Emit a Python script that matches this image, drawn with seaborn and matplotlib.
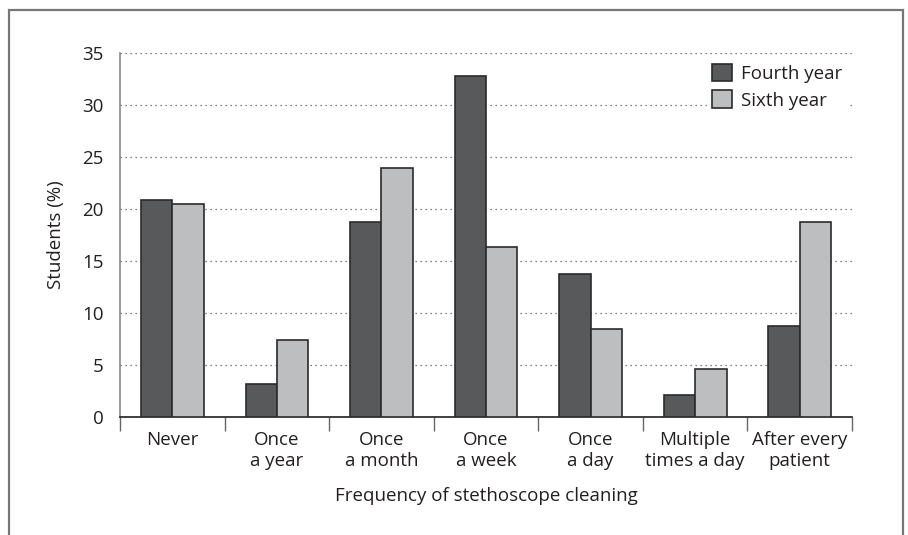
import matplotlib
matplotlib.use('Agg')
import matplotlib.pyplot as plt
import matplotlib.patches as mpatches
import pandas as pd
import seaborn as sns

# data
categories = ['Never', 'Once\na year', 'Once\na month', 'Once\na week',
              'Once\na day', 'Multiple\ntimes a day', 'After every\npatient']
fourth_year = [20.8, 3.1, 18.7, 32.8, 13.7, 2.1, 8.7]
sixth_year = [20.5, 7.4, 23.9, 16.3, 8.4, 4.6, 18.7]
groups = ['Fourth year', 'Sixth year']
y_ticks = [0, 5, 10, 15, 20, 25, 30, 35]

df = pd.DataFrame({
    'category': categories * 2,
    'value': fourth_year + sixth_year,
    'group': [groups[0]] * len(categories) + [groups[1]] * len(categories),
})

sns.set_style('white')
plt.rcParams['font.family'] = ['Open Sans', 'DejaVu Sans']
plt.rcParams['font.size'] = 13.5

colors = {'Fourth year': '#58595b', 'Sixth year': '#bcbec0'}

fig = plt.figure(figsize=(9.08, 5.35), dpi=100)
ax = fig.add_axes([0.1322, 0.2211, 0.8061, 0.6804])

sns.barplot(data=df, x='category', y='value', hue='group', order=categories,
            hue_order=groups, palette=colors, width=0.6, edgecolor='#2b2b2b',
            linewidth=1.2, saturation=1, ax=ax, legend=False, zorder=3)

ax.set_xlim(-0.5, len(categories) - 0.5)
ax.set_ylim(0, 35)
ax.set_yticks(y_ticks)
ax.yaxis.grid(True, linestyle=(0, (1, 3)), color='#555555', linewidth=0.9)
ax.set_axisbelow(True)

# ticks on the x axis sit between the categories
ax.set_xticks(range(len(categories)))
ax.set_xticklabels(categories, linespacing=1.25)
ax.set_xticks([i - 0.5 for i in range(len(categories) + 1)], minor=True)
ax.tick_params(axis='x', which='major', length=0, pad=10, colors='#231f20')
ax.tick_params(axis='x', which='minor', length=10, width=1, color='#666666',
               direction='out', bottom=True)
ax.tick_params(axis='y', length=8, width=1, direction='out', pad=4,
               labelcolor='#231f20', color='#666666')

for side in ['top', 'right']:
    ax.spines[side].set_visible(False)
ax.spines['left'].set_color('#888888')
ax.spines['left'].set_linewidth(1.2)
ax.spines['bottom'].set_color('#231f20')
ax.spines['bottom'].set_linewidth(1.2)

ax.set_xlabel('Frequency of stethoscope cleaning', color='#231f20', labelpad=12)
ax.set_ylabel('Students (%)', color='#231f20', labelpad=12)

handles = [mpatches.Patch(facecolor=colors[g], edgecolor='#2b2b2b', linewidth=1.2, label=g)
           for g in groups]
leg = ax.legend(handles=handles, loc='upper right', bbox_to_anchor=(1.0, 0.995),
                frameon=True, fancybox=False, handlelength=1.05, handleheight=1.05,
                handletextpad=0.5, labelspacing=0.4, borderpad=0.3, borderaxespad=0.2)
leg.get_frame().set_edgecolor('white')
leg.get_frame().set_facecolor('white')
leg.get_frame().set_alpha(1)
for t in leg.get_texts():
    t.set_color('#231f20')

# grey frame around the figure, open at the bottom
frame = mpatches.Rectangle((9 / 908, -0.1), (903 - 9) / 908, 1.1 - 10 / 535,
                           transform=fig.transFigure, fill=False,
                           edgecolor='#777777', linewidth=1.6)
fig.patches.append(frame)

fig.savefig('out.png', dpi=100)
